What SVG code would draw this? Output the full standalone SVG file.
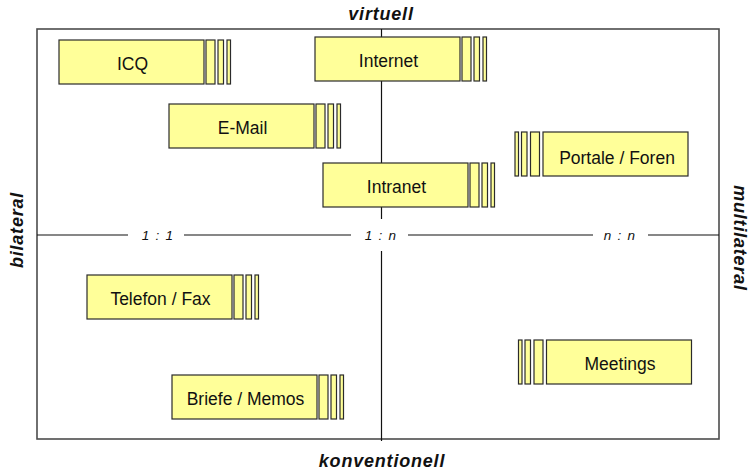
<svg xmlns="http://www.w3.org/2000/svg" width="750" height="472" viewBox="0 0 750 472">
<style>
.frame{fill:none;stroke:#4d4d4d;stroke-width:1.6}
.axis{stroke:#111;stroke-width:1.2;fill:none}
.box{fill:#FFFF99;stroke:#2b2b2b;stroke-width:1.2}
.lbl{font-family:"Liberation Sans",Arial,sans-serif;font-size:17.5px;fill:#111;text-anchor:middle}
.ax{font-family:"Liberation Sans",Arial,sans-serif;font-size:18px;font-weight:bold;font-style:italic;fill:#111;text-anchor:middle;letter-spacing:0.8px}
.ratio{font-family:"Liberation Sans",Arial,sans-serif;font-size:13.5px;font-style:italic;fill:#111;text-anchor:middle;letter-spacing:1.2px}
</style>
<rect width="750" height="472" fill="#fff"/>
<rect class="frame" x="37" y="29" width="682" height="410"/>
<g id="connectors">
<line class="axis" x1="37" y1="235" x2="128" y2="235"/>
<line class="axis" x1="184" y1="235" x2="351" y2="235"/>
<line class="axis" x1="408" y1="235" x2="593" y2="235"/>
<line class="axis" x1="648" y1="235" x2="719" y2="235"/>
<line class="axis" x1="381.5" y1="29" x2="381.5" y2="219"/>
<line class="axis" x1="381.5" y1="251" x2="381.5" y2="441"/>
</g>
<g id="axis-labels">
<text class="ax" x="381" y="20">virtuell</text>
<text class="ax" x="382" y="467">konventionell</text>
<text class="ax" transform="translate(23,230) rotate(-90)">bilateral</text>
<text class="ax" transform="translate(734,238) rotate(90)">multilateral</text>
<text class="ratio" x="158" y="240">1 : 1</text>
<text class="ratio" x="381" y="240">1 : n</text>
<text class="ratio" x="620" y="240">n : n</text>
</g>
<g id="icq">
<rect class="box" x="59" y="40" width="145" height="44"/>
<rect class="box" x="206" y="40" width="9" height="44"/>
<rect class="box" x="218" y="40" width="5.5" height="44"/>
<rect class="box" x="227" y="40" width="3.5" height="44"/>
<text class="lbl" x="132.5" y="70">ICQ</text>
</g>
<g id="email">
<rect class="box" x="169" y="104" width="145" height="44"/>
<rect class="box" x="316" y="104" width="9" height="44"/>
<rect class="box" x="328" y="104" width="5.5" height="44"/>
<rect class="box" x="337" y="104" width="3.5" height="44"/>
<text class="lbl" x="242.5" y="134">E-Mail</text>
</g>
<g id="internet">
<rect class="box" x="315" y="37" width="145" height="44"/>
<rect class="box" x="462" y="37" width="9" height="44"/>
<rect class="box" x="474" y="37" width="5.5" height="44"/>
<rect class="box" x="483" y="37" width="3.5" height="44"/>
<text class="lbl" x="388.5" y="67">Internet</text>
</g>
<g id="intranet">
<rect class="box" x="323" y="163" width="145" height="44"/>
<rect class="box" x="470" y="163" width="9" height="44"/>
<rect class="box" x="482" y="163" width="5.5" height="44"/>
<rect class="box" x="491" y="163" width="3.5" height="44"/>
<text class="lbl" x="396.5" y="193">Intranet</text>
</g>
<g id="portale">
<rect class="box" x="543" y="132" width="145" height="44"/>
<rect class="box" x="530.5" y="132" width="9" height="44"/>
<rect class="box" x="521.5" y="132" width="5.5" height="44"/>
<rect class="box" x="515" y="132" width="3.5" height="44"/>
<text class="lbl" x="617" y="164">Portale / Foren</text>
</g>
<g id="telefon">
<rect class="box" x="87" y="275" width="145" height="44"/>
<rect class="box" x="234" y="275" width="9" height="44"/>
<rect class="box" x="246" y="275" width="5.5" height="44"/>
<rect class="box" x="255" y="275" width="3.5" height="44"/>
<text class="lbl" x="160.5" y="305">Telefon / Fax</text>
</g>
<g id="briefe">
<rect class="box" x="172" y="375" width="145" height="44"/>
<rect class="box" x="319" y="375" width="9" height="44"/>
<rect class="box" x="331" y="375" width="5.5" height="44"/>
<rect class="box" x="340" y="375" width="3.5" height="44"/>
<text class="lbl" x="245.5" y="405">Briefe / Memos</text>
</g>
<g id="meetings">
<rect class="box" x="546.5" y="340" width="145" height="44"/>
<rect class="box" x="534" y="340" width="9" height="44"/>
<rect class="box" x="525" y="340" width="5.5" height="44"/>
<rect class="box" x="518.5" y="340" width="3.5" height="44"/>
<text class="lbl" x="620" y="370">Meetings</text>
</g>
</svg>
